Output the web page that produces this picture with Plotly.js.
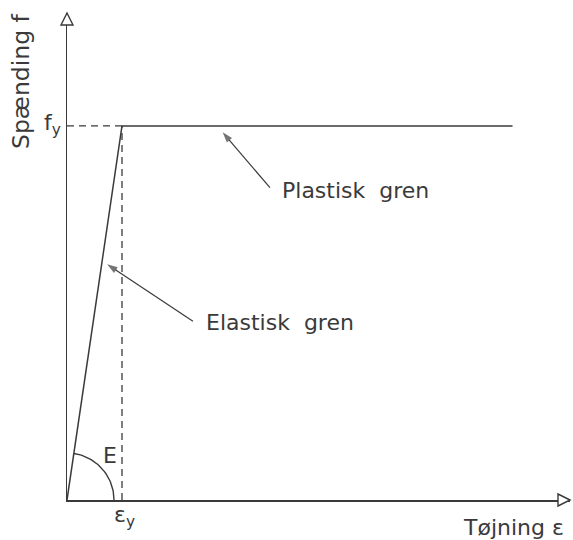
<!DOCTYPE html>
<html>
<head>
<meta charset="utf-8">
<script src="https://cdn.plot.ly/plotly-3.0.1.min.js"></script>
<style>html,body{margin:0;padding:0;background:#fff;}#chart{width:573px;height:540px;}</style>
</head>
<body>
<div id="chart"></div>
<script>
// Data (strain in units of εy, stress in units of fy)
const elasticStrain = [0, 1];
const elasticStress = [0, 1];
const plasticStrain = [1, 8.1];
const plasticStress = [1, 1];
const yieldStrain = 1;
const yieldStress = 1;
const labels = {
  yTitle: 'Spænding f',
  xTitle: 'Tøjning ε',
  fy: 'f<sub>y</sub>',
  ey: 'ε<sub>y</sub>',
  E: 'E',
  plastic: 'Plastisk  gren',
  elastic: 'Elastisk  gren'
};
// pointer arrows: [tail, head] in (strain, stress)
const plasticPointerX = [3.69, 2.83];
const plasticPointerY = [0.835, 0.983];
const elasticPointerX = [2.29, 0.73];
const elasticPointerY = [0.478, 0.630];

const W = 573, H = 540;
const M = {l: 67, r: 3, t: 13, b: 40};
const pw = W - M.l - M.r, ph = H - M.t - M.b;
const xMax = 9.145, yMax = 1.302;
const pxX = pw / xMax, pxY = ph / yMax;

const ink = '#3a3a3a';
const font = {family: 'DejaVu Sans', size: 22, color: ink};

// angle arc for E
const theta = Math.atan2(yieldStress * pxY, yieldStrain * pxX);
const r = 47;
const arcX = [], arcY = [];
for (let i = 0; i <= 40; i++) {
  const t = theta * i / 40;
  arcX.push(r * Math.cos(t) / pxX);
  arcY.push(r * Math.sin(t) / pxY);
}

function pointer(xs, ys) {
  return {x: xs, y: ys, mode: 'lines+markers', cliponaxis: false,
          line: {color: ink, width: 1.2},
          marker: {symbol: 'arrow', angleref: 'previous', size: [0, 11], color: ink, line: {width: 0}}};
}

const traces = [
  {x: [0, yieldStrain], y: [yieldStress, yieldStress], mode: 'lines', line: {color: ink, width: 1.3, dash: '7px,5px'}},
  {x: [yieldStrain, yieldStrain], y: [0, yieldStress], mode: 'lines', line: {color: ink, width: 1.3, dash: '7px,5px'}},
  {x: elasticStrain, y: elasticStress, mode: 'lines', line: {color: ink, width: 1.5}},
  {x: plasticStrain, y: plasticStress, mode: 'lines', line: {color: ink, width: 1.6}},
  {x: arcX, y: arcY, mode: 'lines', line: {color: ink, width: 1.4}},
  pointer(plasticPointerX, plasticPointerY),
  pointer(elasticPointerX, elasticPointerY)
];

function txt(x, y, text, opts) {
  return Object.assign({x: x, y: y, xref: 'x', yref: 'y', text: text, showarrow: false, font: font}, opts || {});
}

const annotations = [
  txt(0, yieldStress, labels.fy, {xanchor: 'center', yanchor: 'middle', xshift: -15, yshift: 1}),
  txt(yieldStrain, 0, labels.ey, {xanchor: 'center', yanchor: 'middle', xshift: 2, yshift: -16}),
  txt(43 / pxX, 45 / pxY, labels.E, {xanchor: 'center', yanchor: 'middle'}),
  txt(3.87, (500 - 190) / pxY, labels.plastic, {xanchor: 'left', yanchor: 'middle'}),
  txt(2.49, (500 - 322) / pxY, labels.elastic, {xanchor: 'left', yanchor: 'middle'}),
  {x: 1, y: 0, xref: 'paper', yref: 'paper', xanchor: 'right', yanchor: 'middle', yshift: -27, xshift: -4,
   text: labels.xTitle, showarrow: false, font: font},
  {x: 0, y: 1, xref: 'paper', yref: 'paper', xanchor: 'center', yanchor: 'top', xshift: -46, yshift: 2,
   text: labels.yTitle, textangle: -90, showarrow: false, font: Object.assign({}, font, {size: 23.5})}
];

const shapes = [
  {type: 'path', xref: 'paper', yref: 'paper', xsizemode: 'pixel', ysizemode: 'pixel', xanchor: 1, yanchor: 0,
   path: 'M0,0 L-12,6 L-12,-6 Z', line: {color: ink, width: 1.4}, fillcolor: 'white'},
  {type: 'path', xref: 'paper', yref: 'paper', xsizemode: 'pixel', ysizemode: 'pixel', xanchor: 0, yanchor: 1,
   path: 'M0,0 L-6,-12 L6,-12 Z', line: {color: ink, width: 1.4}, fillcolor: 'white'}
];

const layout = {
  width: W, height: H,
  margin: M,
  paper_bgcolor: 'white', plot_bgcolor: 'white',
  showlegend: false,
  xaxis: {range: [0, xMax], showgrid: false, zeroline: false, showticklabels: false, ticks: '',
          showline: true, linecolor: ink, linewidth: 1.5, fixedrange: true},
  yaxis: {range: [0, yMax], showgrid: false, zeroline: false, showticklabels: false, ticks: '',
          showline: true, linecolor: ink, linewidth: 1.5, fixedrange: true},
  annotations: annotations,
  shapes: shapes
};

Plotly.newPlot('chart', traces, layout, {staticPlot: true, displayModeBar: false});
</script>
</body>
</html>
